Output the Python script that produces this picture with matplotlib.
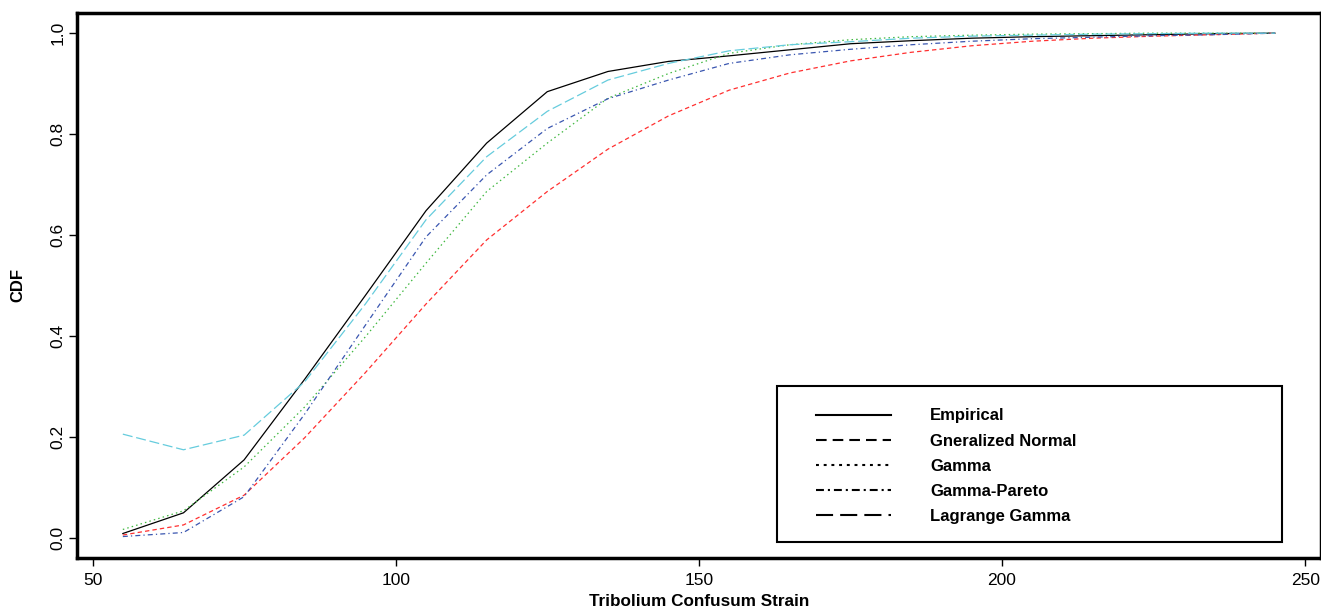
import matplotlib
matplotlib.use("Agg")
import matplotlib.pyplot as plt
from matplotlib.lines import Line2D
from matplotlib.patches import Rectangle

plt.rcParams['font.family'] = ['Liberation Sans', 'DejaVu Sans']

# data
strain = [55, 65, 75, 85, 95, 105, 115, 125, 135, 145,
          155, 165, 175, 185, 195, 205, 215, 225, 235, 245]
empirical = [0.008, 0.049, 0.154, 0.314, 0.480, 0.648, 0.782, 0.884, 0.924, 0.944,
             0.955, 0.967, 0.979, 0.985, 0.990, 0.993, 0.995, 0.997, 0.999, 1.000]
gen_normal = [0.005, 0.025, 0.084, 0.198, 0.327, 0.463, 0.590, 0.686, 0.770, 0.836,
              0.887, 0.921, 0.945, 0.962, 0.975, 0.984, 0.990, 0.994, 0.997, 1.000]
gamma = [0.016, 0.053, 0.140, 0.259, 0.398, 0.544, 0.686, 0.782, 0.871, 0.920,
         0.960, 0.977, 0.987, 0.993, 0.996, 0.998, 0.999, 1.000, 1.000, 1.000]
gamma_pareto = [0.002, 0.010, 0.081, 0.245, 0.421, 0.596, 0.719, 0.811, 0.870, 0.907,
                0.940, 0.957, 0.968, 0.977, 0.984, 0.989, 0.992, 0.995, 0.997, 1.000]
lagrange_gamma = [0.205, 0.174, 0.203, 0.309, 0.463, 0.630, 0.755, 0.845, 0.907, 0.940,
                  0.965, 0.977, 0.983, 0.990, 0.994, 0.996, 0.998, 0.999, 1.000, 1.000]

labels = ['Empirical', 'Gneralized Normal', 'Gamma', 'Gamma-Pareto', 'Lagrange Gamma']
xticks = [50, 100, 150, 200, 250]
yticks = [0.0, 0.2, 0.4, 0.6, 0.8, 1.0]

fig = plt.figure(figsize=(13.21, 6.09), dpi=100)
ax = fig.add_axes([0.0581, 0.0842, 0.9419, 0.8945])

ax.plot(strain, empirical, color='black', lw=0.9, ls='-')
ax.plot(strain, gen_normal, color='#FF3030', lw=0.9, ls=(0, (3.5, 2.5)))
ax.plot(strain, gamma, color='#40B840', lw=0.9, ls=(0, (1.2, 2.5)))
ax.plot(strain, gamma_pareto, color='#3A56B0', lw=0.9, ls=(0, (4, 2.5, 1, 2.5)))
ax.plot(strain, lagrange_gamma, color='#66CCDD', lw=0.9, ls=(0, (8, 3)))

# R-style 4% padding
xr = strain[-1] - strain[0]
ax.set_xlim(strain[0] - 0.04 * xr, strain[-1] + 0.04 * xr)
ax.set_ylim(-0.04, 1.04)
ax.set_xticks(xticks)
ax.set_yticks(yticks)
ax.set_yticklabels(['%.1f' % v for v in yticks], rotation=90, va='center')
ax.tick_params(direction='out', length=6, width=1, labelsize=12.5)
ax.tick_params(axis='x', pad=5)
ax.tick_params(axis='y', pad=2)

for sp in ax.spines.values():
    sp.set_linewidth(2.5)

ax.set_xlabel('Tribolium Confusum Strain', fontsize=12.3, fontweight='bold', labelpad=4)
ax.set_ylabel('CDF', fontsize=12, fontweight='bold', labelpad=18)

# legend: black sample lines inside a plain box
handles = [
    Line2D([], [], color='black', lw=1.5, ls='-'),
    Line2D([], [], color='black', lw=1.5, ls=(0, (5.1, 2.9))),
    Line2D([], [], color='black', lw=1.5, ls=(0, (1.4, 2.3))),
    Line2D([], [], color='black', lw=1.5, ls=(0, (3.8, 1.9, 1, 1.9))),
    Line2D([], [], color='black', lw=1.5, ls=(0, (8.2, 3.4))),
]
W, H = 1321.0, 609.0
box = Rectangle((777 / W, (H - 541.7) / H), (1282 - 777) / W, (541.7 - 385.7) / H,
                transform=fig.transFigure, fill=True, facecolor='white',
                edgecolor='black', lw=1.5, zorder=5)
fig.patches.append(box)
leg = fig.legend(handles, labels, loc='upper left',
                 bbox_to_anchor=(808 / W, (H - 400) / H), bbox_transform=fig.transFigure,
                 frameon=False, borderpad=0, handlelength=4.5, handletextpad=2.34,
                 labelspacing=0.61, prop={'weight': 'bold', 'size': 12})
leg.set_zorder(6)

plt.savefig('out.png', dpi=100)
